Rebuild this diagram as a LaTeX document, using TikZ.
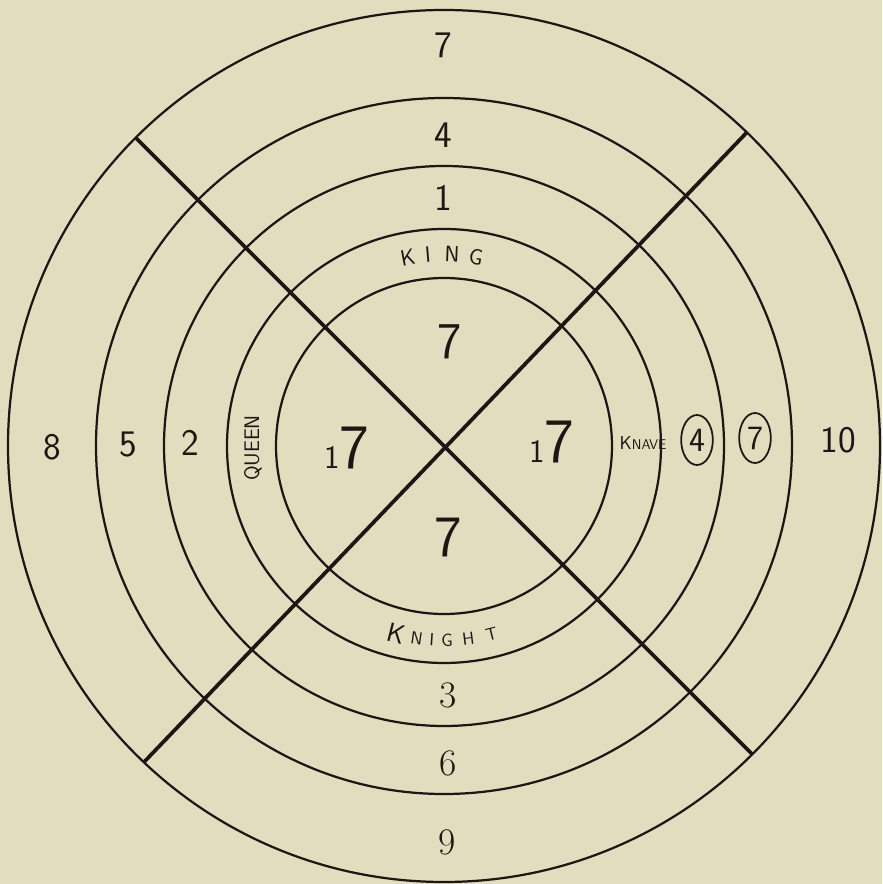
\documentclass[tikz,border=0pt]{standalone}
\usetikzlibrary{shapes.geometric}
\definecolor{papel}{RGB}{227,221,192}
\definecolor{tinta}{RGB}{30,22,18}

\begin{document}
\begin{tikzpicture}[x=0.3mm, y=0.3mm,
    anillo/.style={draw=tinta, line width=1.9pt},
    brazo/.style={draw=tinta, line width=3.2pt},
    cifra/.style={text=tinta, inner sep=0pt, font=\sffamily\fontsize{32}{36}\selectfont},
    romana/.style={text=tinta, inner sep=0pt, font=\fontsize{32}{36}\selectfont},
    letra/.style={text=tinta, inner sep=0pt, font=\sffamily\fontsize{19}{22}\selectfont},
    marcada/.style={cifra, font=\sffamily\fontsize{29}{32}\selectfont, draw=tinta, line width=1.5pt,
      ellipse, minimum width=9.5mm, minimum height=15mm}]

    % Fondo y margenes
    \fill[papel] (-444,-438) rectangle (438,446);
    \useasboundingbox (-444,-438) rectangle (438,446);

    % Anillos
    \foreach \r in {168,217,280,348,436}
        \draw[anillo] (0,0) circle (\r);

    % Cruz hasta el anillo exterior
    \coordinate (no) at (135:436);
    \coordinate (se) at (315:436);
    \coordinate (ne) at (46:436);
    \coordinate (so) at (226.5:436);
    \draw[brazo] (no) -- (se);
    \draw[brazo] (ne) -- (so);

    % Cifras de arriba
    \node[cifra] (sup3) at (-1,401) {7};
    \node[cifra] (sup2) at (-1,311) {4};
    \node[cifra] (sup1) at (-1,248) {1};

    % Rey
    \foreach \l/\a in {K/100.9, I/94.8, N/87.6, G/80.4}
        \node[letra, rotate=\a-90] (rey\l) at (\a:192) {\l};

    % Centro
    \node[cifra, font=\sffamily\fontsize{44}{48}\selectfont] (cnorte) at (6,104) {7};
    \node[cifra, font=\sffamily\fontsize{50}{54}\selectfont] (csur) at (4,-92) {7};
    \node[cifra] (coeste) at (-97,-2) {{\fontsize{28}{30}\selectfont 1}{\fontsize{54}{56}\selectfont 7}};
    \node[cifra] (ceste) at (108,4) {{\fontsize{28}{30}\selectfont 1}{\fontsize{54}{56}\selectfont 7}};

    % Izquierda
    \node[letra, font=\sffamily\fontsize{18}{20}\selectfont, rotate=90] (reina) at (-191,-2) {QUEEN};
    \node[cifra] (izq1) at (-254,3) {2};
    \node[cifra] (izq2) at (-316,1) {5};
    \node[cifra] (izq3) at (-392,-1) {8};

    % Derecha
    \node[letra, font=\sffamily\fontsize{12}{14}\selectfont] (sota) at (199,3) {{\fontsize{16}{18}\selectfont K}NAVE};
    \node[marcada] (der1) at (253,6) {4};
    \node[marcada] (der2) at (311,8) {7};
    \node[cifra] (der3) at (394,6) {10};

    % Caballo
    \node[letra, font=\sffamily\fontsize{23}{26}\selectfont, rotate=-14.2] (cabK) at (255.8:194) {K};
    \foreach \l/\a in {N/261.9, I/266.4, G/270.9, H/277.2, T/284.2}
        \node[letra, font=\sffamily\fontsize{15}{18}\selectfont, rotate=\a+90] (cab\l) at (\a:194) {\l};

    % Cifras de abajo
    \node[romana] (inf1) at (4,-249) {3};
    \node[romana] (inf2) at (4,-317) {6};
    \node[romana] (inf3) at (3,-396) {9};
\end{tikzpicture}
\end{document}
